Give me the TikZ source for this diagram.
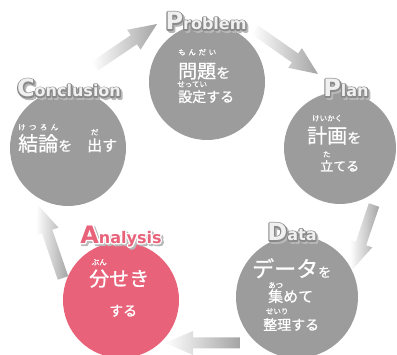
\documentclass[tikz,border=0pt]{standalone}
\usepackage{fontspec}
\usetikzlibrary{calc}
\newfontfamily\jafont{Noto Sans CJK JP}[RawFeature={embolden=0.8}]
\newfontfamily\titlefont{DejaVu Sans Bold}
\definecolor{stepgray}{HTML}{9C9C9C}
\definecolor{steppink}{HTML}{E8627A}
\definecolor{arrowgray}{HTML}{A4A4A4}
\definecolor{rimgray}{HTML}{8A8A8A}

\newcommand{\jsize}[1]{\fontsize{#1}{#1}\selectfont}
% base, reading, raise
\newcommand{\furi}[3]{\setbox0\hbox{#1}\rlap{\raisebox{#3}{\hbox to \wd0{\hss\jsize{7.5}#2\hss}}}\box0}
\newcommand{\titletext}[2]{{\fontsize{24}{24}\selectfont#1}{\fontsize{16}{16}\selectfont#2}}
\newcommand{\rimon}{\special{pdf:literal direct 2 Tr 2.6 w 1 j}}
\newcommand{\rimoff}{\special{pdf:literal direct 0 Tr 0.4 w 0 j}}
% fill, rim, shadow, first letter, rest
\newcommand{\steplabel}[5]{%
  \rlap{\kern1.8pt\raisebox{-1.8pt}{\color{#3}\rimon\titletext{#4}{#5}\rimoff}}%
  \rlap{\color{#2}\rimon\titletext{#4}{#5}\rimoff}%
  {\color{#1}\titletext{#4}{#5}}}
% tail, tip
\newcommand{\flowarrow}[2]{%
  \path (#1); \pgfgetlastxy{\ax}{\ay}
  \path (#2); \pgfgetlastxy{\bx}{\by}
  \pgfmathsetmacro{\ang}{atan2(\by-\ay,\bx-\ax)}
  \pgfmathsetmacro{\len}{veclen(\bx-\ax,\by-\ay)}
  \begin{scope}[shift={(#1)}, rotate=\ang, x=1pt, y=1pt]
    \shade[left color=white, right color=arrowgray]
      (0,-5.5) -- (\len-28,-5.5) -- (\len-28,-12) -- (\len,0)
      -- (\len-28,12) -- (\len-28,5.5) -- (0,5.5) -- cycle;
  \end{scope}}

\begin{document}
\begin{tikzpicture}[x=1pt, y=-1pt,
    stepcircle/.style={circle, minimum size=116pt, inner sep=0pt},
    steptitle/.style={font=\titlefont, inner sep=0pt},
    jtext/.style={font=\jafont, text=white, inner sep=0pt, anchor=base west}]
  \useasboundingbox (0,0) rectangle (397,355);

  % Arrow ends
  \coordinate (conc-out) at (95,66);   \coordinate (prob-in) at (157,24);
  \coordinate (prob-out) at (255,30);  \coordinate (plan-in) at (318,74);
  \coordinate (plan-out) at (374,205); \coordinate (data-in) at (352,270);
  \coordinate (data-out) at (240,343); \coordinate (anal-in) at (165,343);
  \coordinate (anal-out) at (63,278);  \coordinate (conc-in) at (38,205);

  % Arrows
  \flowarrow{conc-out}{prob-in}
  \flowarrow{prob-out}{plan-in}
  \flowarrow{plan-out}{data-in}
  \flowarrow{data-out}{anal-in}
  \flowarrow{anal-out}{conc-in}

  % Circles
  \node[stepcircle, fill=stepgray] (problem) at (207,82) {};
  \node[stepcircle, fill=stepgray, minimum size=112pt] (plan) at (340,148) {};
  \node[stepcircle, fill=stepgray, minimum size=122pt] (data) at (297,297) {};
  \node[stepcircle, fill=steppink] (analysis) at (121,300) {};
  \node[stepcircle, fill=stepgray] (conclusion) at (68,148) {};

  % Titles
  \node[steptitle] (problem-title) at (206,22) {\steplabel{white!94!black}{rimgray}{black!28}{P}{roblem}};
  \node[steptitle] (plan-title) at (346,89) {\steplabel{white!94!black}{rimgray}{black!28}{P}{lan}};
  \node[steptitle] (data-title) at (292,233) {\steplabel{white!94!black}{rimgray}{black!28}{D}{ata}};
  \node[steptitle] (analysis-title) at (121,237) {\steplabel{steppink}{white}{black!28}{A}{nalysis}};
  \node[steptitle] (conclusion-title) at (69,89) {\steplabel{white!94!black}{rimgray}{black!28}{C}{onclusion}};

  % Texts
  \node[jtext] (problem-l1) at (178,78) {{\jsize{19}\furi{問題}{も\hfill ん\hfill だ\hfill い}{23pt}}{\jsize{14}を}};
  \node[jtext] (problem-l2) at (178,102) {\jsize{14}\furi{設定}{せってい}{15pt}する};
  \node[jtext] (plan-l1) at (307,143) {{\jsize{20}\furi{計画}{けいかく}{22pt}}{\jsize{14}を}};
  \node[jtext] (plan-l2) at (320,171) {\jsize{13}\furi{立}{た}{14pt}てる};
  \node[jtext] (data-l1) at (252,277) {{\jsize{22}データ}{\jsize{13}を}};
  \node[jtext] (data-l2) at (268,302) {\jsize{15}\furi{集}{あつ}{14pt}めて};
  \node[jtext] (data-l3) at (263,330) {\jsize{14}\furi{整理}{せいり}{16pt}する};
  \node[jtext] (analysis-l1) at (89,286) {\jsize{20}\furi{分}{ぶん}{21pt}せき};
  \node[jtext] (analysis-l2) at (109,316) {\jsize{14}する};
  \node[jtext] (conclusion-l1) at (18,151) {{\jsize{20}\furi{結論}{け\hfill つ\hfill ろ\hfill ん}{21pt}}{\jsize{14}を}\hspace{15pt}{\jsize{15}\furi{出}{だ}{16pt}す}};
\end{tikzpicture}
\end{document}
